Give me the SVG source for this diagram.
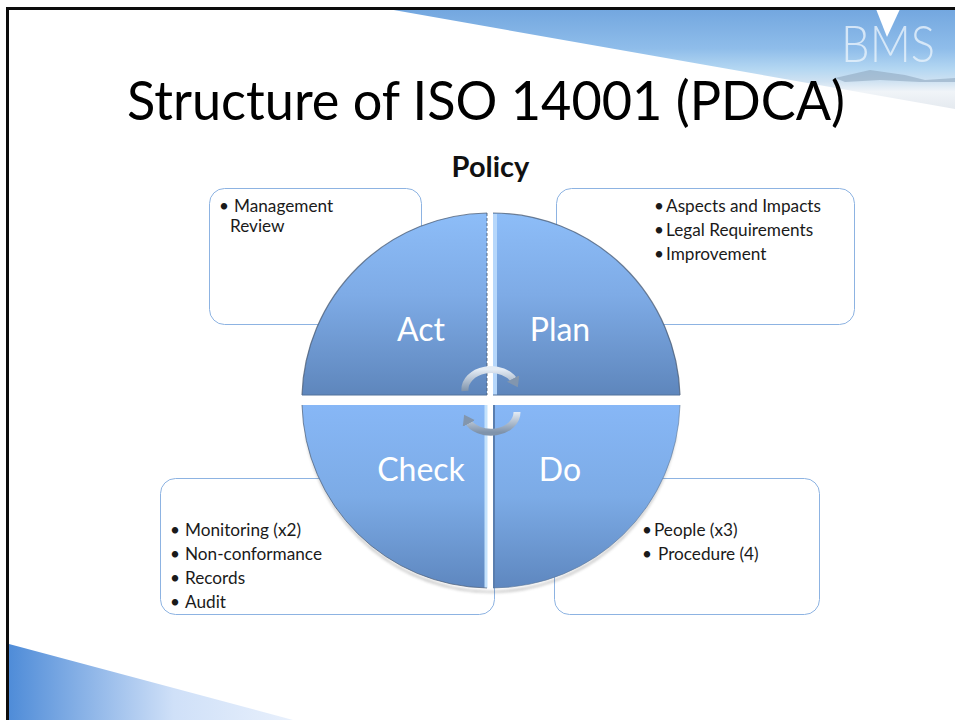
<svg xmlns="http://www.w3.org/2000/svg" width="955" height="720" viewBox="0 0 955 720">
<style>
.box{fill:#fff;stroke:#8db3e2;stroke-width:1}
.t{font-family:"Lato","Carlito","Liberation Sans",sans-serif;font-size:17.200px;fill:#1a1a1a}
.q{font-family:"Lato","Carlito","Liberation Sans",sans-serif;font-size:32px;fill:#fff;text-anchor:middle}
.arc{fill:none;stroke:url(#arcg);stroke-width:7}
</style>
<defs>
<linearGradient id="sky" gradientUnits="userSpaceOnUse" x1="0" y1="8" x2="0" y2="110">
<stop offset="0" stop-color="#72a6df"/><stop offset=".4" stop-color="#8fbdea"/><stop offset=".6" stop-color="#b4d7f2"/><stop offset=".72" stop-color="#cfe2f2"/><stop offset=".82" stop-color="#f0f4f8"/><stop offset="1" stop-color="#e4e9ef"/>
</linearGradient>
<linearGradient id="low" gradientUnits="userSpaceOnUse" x1="9" y1="0" x2="293" y2="0">
<stop offset="0" stop-color="#4f8cd8"/><stop offset=".58" stop-color="#cfe0f8"/><stop offset="1" stop-color="#e8f0fc"/>
</linearGradient>
<linearGradient id="topq" x1="0" y1="0" x2="0" y2="1">
<stop offset="0" stop-color="#8dbdf8"/><stop offset=".45" stop-color="#7eabe6"/><stop offset="1" stop-color="#5e86bc"/>
</linearGradient>
<linearGradient id="botq" x1="0" y1="0" x2="0" y2="1">
<stop offset="0" stop-color="#87b7f6"/><stop offset=".5" stop-color="#7cabe6"/><stop offset="1" stop-color="#5e87bf"/>
</linearGradient>
<linearGradient id="arcg" x1="0" y1="0" x2="0" y2="1">
<stop offset="0" stop-color="#e4ecf5"/><stop offset="1" stop-color="#7f93ab"/>
</linearGradient>
<filter id="blur" x="-10%" y="-10%" width="120%" height="120%"><feGaussianBlur stdDeviation="1.500"/></filter>
<marker id="ah" markerUnits="userSpaceOnUse" markerWidth="16" markerHeight="16" refX="4" refY="7" orient="auto"><path d="M0,0L10,7L0,14Z" fill="#8296ae"/></marker>
</defs>
<rect width="955" height="720" fill="#fff"/>
<g id="background">
<polygon points="388,9 955,109 955,9" fill="url(#sky)"/>
<polygon points="9,644 293,720 9,720" fill="url(#low)"/>
<path d="M835,78 L870,70 L905,75 L925,80 L955,78 L955,82 L920,82 L880,80 L845,82Z" fill="#8fa8c0" opacity=".6"/>
<polygon points="876,9 900,9 887,37" fill="#fff"/>
<text x="888" y="62" text-anchor="middle" font-family="Lato,sans-serif" font-weight="300" font-size="52" fill="#e9f3fb" fill-opacity=".8" textLength="94" lengthAdjust="spacingAndGlyphs">BMS</text>
<rect x="6" y="7" width="949" height="3" fill="#0c0c0c"/>
<rect x="6" y="7" width="3" height="713" fill="#0c0c0c"/>
</g>
<text id="title" x="127" y="120" font-family="Lato,Carlito,sans-serif" font-size="54" fill="#000" textLength="718" lengthAdjust="spacingAndGlyphs">Structure of ISO 14001 (PDCA)</text>
<text id="policy" x="490.500" y="177" font-family="Lato,Carlito,sans-serif" font-weight="700" font-size="29" fill="#111" text-anchor="middle">Policy</text>
<g id="box-act"><rect class="box" x="209.500" y="188.500" width="212" height="136" rx="15"/>
<text class="t" x="219" y="212">•</text><text class="t" x="234" y="212">Management</text><text class="t" x="230" y="232">Review</text></g>
<g id="box-plan"><rect class="box" x="556.500" y="188.500" width="298" height="136" rx="15"/>
<text class="t" x="654" y="212">•</text><text class="t" x="666" y="212">Aspects and Impacts</text>
<text class="t" x="654" y="236">•</text><text class="t" x="666" y="236">Legal Requirements</text>
<text class="t" x="654" y="260">•</text><text class="t" x="666" y="260">Improvement</text></g>
<g id="box-check"><rect class="box" x="160.500" y="478.500" width="334" height="136" rx="15"/>
<text class="t" x="170" y="536">•</text><text class="t" x="185" y="536">Monitoring (x2)</text>
<text class="t" x="170" y="560">•</text><text class="t" x="185" y="560">Non-conformance</text>
<text class="t" x="170" y="584">•</text><text class="t" x="185" y="584">Records</text>
<text class="t" x="170" y="608">•</text><text class="t" x="185" y="608">Audit</text></g>
<g id="box-do"><rect class="box" x="554.500" y="478.500" width="265" height="136" rx="15"/>
<text class="t" x="642" y="536">•</text><text class="t" x="654" y="536">People (x3)</text>
<text class="t" x="642" y="560">•</text><text class="t" x="658" y="560">Procedure (4)</text></g>
<rect x="486" y="470" width="8" height="119" fill="#fff"/>
<path d="M306,430 A188,188 0 0 0 487,591 L493,591 A188,188 0 0 0 676,430 L676,438 A188,188 0 0 1 306,438Z" fill="#444" opacity=".4" filter="url(#blur)"/>
<path d="M302,396 H487 M493,396 H680" stroke="#777" stroke-width="3" opacity=".5" filter="url(#blur)"/>
<g id="node-act">
<path d="M487,213 A188,188 0 0 0 302,395 L487,395Z" fill="url(#topq)"/>
<path d="M487,213 L487,395" stroke="#47596e" stroke-width="1.200" stroke-dasharray="3 2" fill="none" opacity=".7"/>
<path d="M487,213 A188,188 0 0 0 302,395" stroke="#4a5b73" stroke-width="1.200" fill="none" opacity=".75"/>
<path d="M302,395 H487" stroke="#52729c" stroke-width="1"/>
<text class="q" x="421" y="341">Act</text></g>
<g id="node-plan">
<path d="M493,213 A188,188 0 0 1 680,395 L493,395Z" fill="url(#topq)"/>
<path d="M495,214 L495,395" stroke="#b6d7fb" stroke-width="4" fill="none"/>
<path d="M493,213 A188,188 0 0 1 680,395" stroke="#4a5b73" stroke-width="1.200" fill="none" opacity=".75"/>
<path d="M493,395 H680" stroke="#52729c" stroke-width="1"/>
<text class="q" x="560" y="341">Plan</text></g>
<g id="node-check">
<path d="M302,405 A188,188 0 0 0 487,588 L487,405Z" fill="url(#botq)"/>
<path d="M486,405 L486,588" stroke="#c4e2fc" stroke-width="3" fill="none"/>
<path d="M302,405 A188,188 0 0 0 487,588" stroke="#4a5b73" stroke-width="1" fill="none" opacity=".7"/>
<text class="q" x="421" y="481">Check</text></g>
<g id="node-do">
<path d="M493,588 A188,188 0 0 0 680,405 L493,405Z" fill="url(#botq)"/>
<path d="M494,405 L494,588" stroke="#5a7eae" stroke-width="2" fill="none"/>
<path d="M493,588 A188,188 0 0 0 680,405" stroke="#5e7694" stroke-width="1" fill="none" opacity=".6"/>
<text class="q" x="560" y="481">Do</text></g>
<g id="connectors">
<path class="arc" d="M465,391 A26,20 0 0 1 515,382" marker-end="url(#ah)"/>
<path class="arc" d="M517,412 A26,20 0 0 1 467,420" marker-end="url(#ah)"/>
</g>
</svg>
